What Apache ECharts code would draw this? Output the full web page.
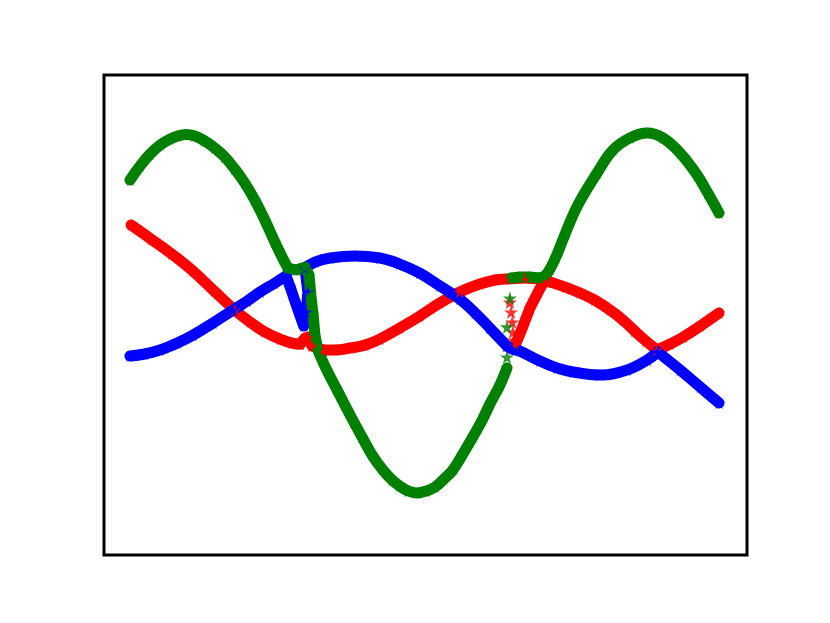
<!DOCTYPE html>
<html>
<head>
<meta charset="utf-8">
<script src="https://cdn.jsdelivr.net/npm/echarts@6/dist/echarts.min.js"></script>
<style>html,body{margin:0;padding:0;background:#fff}#c{width:830px;height:623px}</style>
</head>
<body>
<div id="c"></div>
<script>
// values (x: 0..10, y: approx -1..1)
// green curve, pieces
var greenRise1   = [[0.00,0.736],[0.17,0.813],[0.34,0.879],[0.51,0.929],[0.68,0.962],[0.81,0.979],[0.95,0.987],[1.10,0.979],[1.27,0.951],[1.44,0.912],[1.61,0.863],[1.78,0.796],[1.95,0.719],[2.12,0.625],[2.29,0.515],[2.46,0.394],[2.60,0.300],[2.68,0.251]];
var greenKink1   = [[2.68,0.251],[2.82,0.240],[2.97,0.256],[3.04,0.212],[3.07,0.102],[3.11,-0.008],[3.14,-0.119],[3.19,-0.201]];
var greenTrough  = [[3.19,-0.201],[3.34,-0.311],[3.50,-0.411],[3.65,-0.505],[3.80,-0.598],[3.94,-0.681],[4.11,-0.780],[4.28,-0.857],[4.45,-0.918],[4.58,-0.951],[4.72,-0.978],[4.87,-0.989],[5.03,-0.978],[5.18,-0.956],[5.33,-0.912],[5.48,-0.863],[5.65,-0.775],[5.82,-0.681],[5.98,-0.587],[6.11,-0.499],[6.28,-0.394],[6.40,-0.300]];
var greenKink2   = [[6.47,0.196],[6.62,0.201],[6.79,0.201],[6.96,0.196],[7.05,0.207]];
var greenRise2   = [[7.05,0.207],[7.13,0.245],[7.23,0.311],[7.34,0.400],[7.47,0.504],[7.62,0.609],[7.93,0.775],[8.20,0.901],[8.49,0.968],[8.78,0.995],[9.05,0.968],[9.34,0.885],[9.63,0.763],[9.81,0.664],[10.00,0.554]];
var greenSparse  = [[6.40,-0.240],[6.40,-0.074],[6.45,0.085]];
// red curve, pieces
var redLeft      = [[0.02,0.488],[0.36,0.410],[0.71,0.328],[1.07,0.234],[1.43,0.124],[1.78,0.019],[2.04,-0.047],[2.29,-0.102],[2.55,-0.141],[2.75,-0.163],[2.89,-0.168]];
var redHump      = [[2.89,-0.168],[2.97,-0.135],[3.02,-0.130],[3.09,-0.179],[3.28,-0.201]];
var redMiddle    = [[3.28,-0.201],[3.48,-0.201],[3.74,-0.190],[3.99,-0.174],[4.24,-0.141],[4.58,-0.080],[4.92,-0.014],[5.26,0.058],[5.60,0.119],[5.94,0.163],[6.20,0.185],[6.37,0.190],[6.71,0.196],[7.03,0.185],[7.13,0.174],[7.39,0.146],[7.64,0.113],[7.89,0.074],[8.15,0.019],[8.37,-0.036],[8.57,-0.097],[8.76,-0.152],[8.95,-0.201]];
var redRight     = [[8.95,-0.201],[9.17,-0.168],[9.39,-0.130],[9.68,-0.069],[10.00,0.003]];
var redArm       = [[6.54,-0.174],[6.66,-0.080],[6.79,0.030],[6.93,0.119],[7.03,0.179]];
var redSparse    = [[6.45,0.063],[6.47,0.008],[6.49,-0.047],[6.50,-0.102],[6.52,-0.146]];
// blue curve, pieces
var blueLeft     = [[0.00,-0.234],[0.25,-0.223],[0.51,-0.201],[0.80,-0.163],[1.07,-0.119],[1.41,-0.052],[1.75,0.019],[1.99,0.069],[2.21,0.119],[2.46,0.168],[2.65,0.207]];
var blueDip      = [[2.65,0.207],[2.72,0.146],[2.80,0.069],[2.89,-0.014],[2.95,-0.069],[2.99,0.008],[3.02,0.119],[2.97,0.251]];
var blueHill     = [[2.97,0.251],[3.14,0.284],[3.40,0.306],[3.82,0.317],[4.24,0.306],[4.58,0.273],[4.92,0.223],[5.26,0.152],[5.60,0.080],[5.86,0.003],[6.11,-0.080],[6.40,-0.179]];
var blueValley   = [[6.40,-0.179],[6.49,-0.196],[6.62,-0.207],[6.96,-0.262],[7.25,-0.300],[7.52,-0.322],[7.98,-0.339],[8.44,-0.311],[8.78,-0.256],[8.96,-0.212]];
var blueRight    = [[8.96,-0.212],[9.34,-0.311],[9.68,-0.405],[10.00,-0.493]];

var STAR = 'path://M50,0 L61,35 L98,35 L68,57 L79,91 L50,70 L21,91 L32,57 L2,35 L39,35 Z';
function band(data, color, smooth) {
  return {type:'line', data:data, smooth:smooth ? 0.4 : false, symbol:STAR, symbolSize:12, showSymbol:true, showAllSymbol:true,
    itemStyle:{color:color}, lineStyle:{color:color, width:11, cap:'round', join:'round'},
    silent:true, animation:false};
}
function sparse(data, color) {
  return {type:'scatter', data:data, symbol:STAR, symbolSize:14, itemStyle:{color:color}, silent:true, animation:false};
}
var R = '#ff0000', B = '#0000ff', G = '#008000';
var chart = echarts.init(document.getElementById('c'), null, {renderer:'canvas'});
chart.setOption({
  animation:false,
  backgroundColor:'#fff',
  grid:{left:104, top:75, width:643, height:480, show:true, borderColor:'#000', borderWidth:3, backgroundColor:'transparent'},
  xAxis:{type:'value', min:-0.441, max:10.475, show:false},
  yAxis:{type:'value', min:-1.331, max:1.315, show:false},
  series:[
    band(redLeft,R,true), band(redHump,R,false), band(redMiddle,R,true), band(redRight,R,true), band(redArm,R,false), sparse(redSparse,R),
    band(blueLeft,B,true), band(blueDip,B,false), band(blueHill,B,true), band(blueValley,B,true), band(blueRight,B,true),
    band(greenRise1,G,true), band(greenKink1,G,false), band(greenTrough,G,true), band(greenKink2,G,false), band(greenRise2,G,true), sparse(greenSparse,G)
  ]
});
</script>
</body>
</html>
